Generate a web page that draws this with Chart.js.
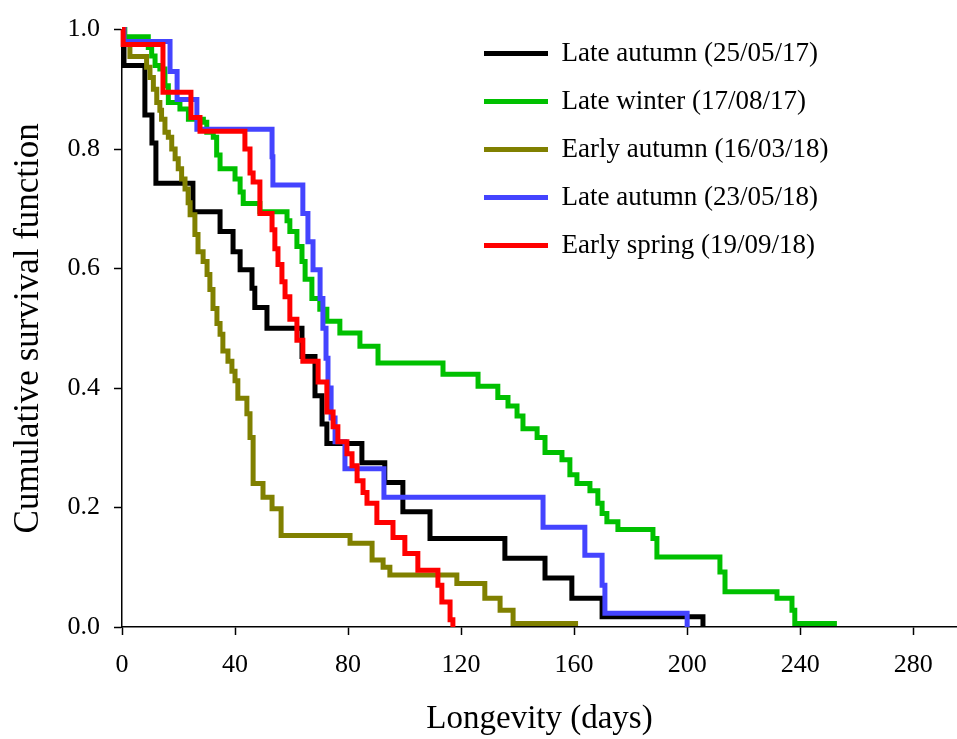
<!DOCTYPE html>
<html>
<head>
<meta charset="utf-8">
<script src="https://cdn.jsdelivr.net/npm/chart.js@4.4.1/dist/chart.umd.min.js"></script>
<style>
html,body{margin:0;padding:0;background:#fff;}
canvas{display:block;}
</style>
</head>
<body>
<canvas id="c" width="957" height="739"></canvas>
<script>
// ---- Data ----
const seriesLabels = [
  'Late autumn (25/05/17)',
  'Late winter (17/08/17)',
  'Early autumn (16/03/18)',
  'Late autumn (23/05/18)',
  'Early spring (19/09/18)'
];

const blackDays = [0, 0.7, 8.1, 10.6, 12, 25.1, 34.7, 39.3, 41.8, 46, 47, 51.3, 63.7, 68.3, 70.8, 72.5, 84.9, 93, 99.4, 109, 135.5, 149.7, 159.2, 169.9, 205.6];
const blackSurv = [1.0, 0.94, 0.857, 0.81, 0.743, 0.695, 0.662, 0.628, 0.598, 0.567, 0.535, 0.50, 0.453, 0.387, 0.34, 0.307, 0.275, 0.242, 0.193, 0.148, 0.115, 0.082, 0.048, 0.017, 0];

const greenDays = [0, 1, 9.3, 10.5, 11.7, 13.4, 15.2, 16.4, 20.5, 23.5, 28.8, 30, 32.3, 33.5, 34.7, 40, 41.8, 42.9, 48.8, 58.4, 59.4, 61.9, 63.7, 64.8, 67.2, 70, 72.5, 77.1, 84.2, 90.6, 113.6, 126, 133, 136.6, 139.8, 141.9, 146.9, 149.7, 155.7, 158.5, 161, 165.6, 168.4, 169.9, 171.6, 175.5, 187.9, 189.3, 211.6, 213.4, 231.8, 237.1, 238.1, 253];
const greenSurv = [1.0, 0.988, 0.97, 0.956, 0.94, 0.934, 0.906, 0.878, 0.867, 0.85, 0.845, 0.828, 0.82, 0.79, 0.767, 0.75, 0.728, 0.709, 0.695, 0.68, 0.662, 0.637, 0.612, 0.582, 0.55, 0.532, 0.512, 0.492, 0.47, 0.442, 0.423, 0.403, 0.384, 0.37, 0.353, 0.332, 0.317, 0.292, 0.28, 0.255, 0.24, 0.228, 0.207, 0.19, 0.176, 0.163, 0.148, 0.117, 0.092, 0.059, 0.048, 0.028, 0.006, 0.006];

const oliveDays = [0, 0.7, 2.8, 8.7, 9.9, 11.1, 12.3, 13.4, 14, 15.2, 16.4, 17.6, 18.8, 19.9, 21.1, 22.3, 23.4, 24.1, 25.8, 26.9, 28.7, 30.1, 31.1, 32.2, 33.6, 34.7, 35.7, 37.5, 38.9, 40, 41, 44.2, 45.3, 46.4, 49.9, 53.1, 56.3, 80.7, 88.5, 92.4, 94.8, 118.5, 128.4, 133.8, 138.4, 161.4];
const oliveSurv = [1.0, 0.975, 0.955, 0.937, 0.92, 0.9, 0.878, 0.865, 0.85, 0.828, 0.82, 0.8, 0.784, 0.767, 0.75, 0.733, 0.71, 0.69, 0.657, 0.628, 0.612, 0.59, 0.565, 0.533, 0.508, 0.49, 0.462, 0.445, 0.428, 0.412, 0.383, 0.357, 0.317, 0.24, 0.217, 0.198, 0.153, 0.14, 0.112, 0.1, 0.087, 0.073, 0.048, 0.028, 0.006, 0.006];

const blueDays = [0, 0.7, 17, 19.5, 26.5, 53.1, 53.4, 64, 65.8, 67.6, 70.1, 71.1, 72.2, 72.9, 74, 75.4, 78.9, 92.7, 149, 163.8, 169.9, 170.9, 200];
const blueSurv = [1.0, 0.98, 0.93, 0.883, 0.833, 0.787, 0.74, 0.692, 0.645, 0.598, 0.55, 0.5, 0.45, 0.4, 0.35, 0.31, 0.265, 0.217, 0.167, 0.12, 0.07, 0.023, 0];

const redDays = [0, 0.4, 14.5, 24.4, 27.6, 43.5, 45.3, 46.4, 48.8, 53.1, 54.1, 55.2, 56.6, 57.7, 59.4, 61.9, 64, 69.4, 72.5, 74.7, 76.4, 79.6, 81.4, 83.2, 85.3, 86.7, 90.2, 95.9, 100.1, 104.7, 111.8, 113.2, 116.1, 117.1];
const redSurv = [1.0, 0.975, 0.895, 0.853, 0.83, 0.80, 0.76, 0.745, 0.692, 0.665, 0.633, 0.607, 0.578, 0.553, 0.515, 0.48, 0.445, 0.41, 0.36, 0.335, 0.31, 0.29, 0.27, 0.245, 0.225, 0.207, 0.175, 0.15, 0.123, 0.095, 0.07, 0.042, 0.012, 0];

const xTickStep = 40;
const yTickStep = 0.2;

// ---- Build chart ----
const toPoints = (days, surv) => days.map((d, i) => ({x: d, y: surv[i]}));

Chart.defaults.font.family = "'Liberation Serif', 'Times New Roman', serif";
Chart.defaults.color = '#000';

function makeSet(label, days, surv, color, order) {
  return {
    label: label,
    data: toPoints(days, surv),
    borderColor: color,
    backgroundColor: color,
    borderWidth: 5,
    stepped: 'before',
    pointRadius: 0,
    pointHoverRadius: 0,
    fill: false,
    order: order,
    clip: 8
  };
}

const legendPlacer = {
  id: 'legendPlacer',
  afterLayout(chart) {
    const lg = chart.legend;
    if (lg) {
      lg.left = 463;
      lg.top = 19;
      lg.right = lg.left + lg.width;
      lg.bottom = lg.top + lg.height;
    }
  }
};

new Chart(document.getElementById('c'), {
  type: 'line',
  data: {
    datasets: [
      makeSet(seriesLabels[0], blackDays, blackSurv, '#000000', 4),
      makeSet(seriesLabels[1], greenDays, greenSurv, '#00C000', 3),
      makeSet(seriesLabels[2], oliveDays, oliveSurv, '#808000', 2),
      makeSet(seriesLabels[3], blueDays, blueSurv, '#4444FF', 1),
      makeSet(seriesLabels[4], redDays, redSurv, '#FF0000', 0)
    ]
  },
  options: {
    responsive: false,
    animation: false,
    devicePixelRatio: 1,
    layout: { padding: { top: 27, right: 0, bottom: 0, left: 0 } },
    plugins: {
      tooltip: { enabled: false },
      legend: {
        display: true,
        position: 'chartArea',
        align: 'start',
        labels: {
          boxWidth: 64,
          boxHeight: 5,
          padding: 21,
          color: '#000',
          font: { size: 27 },
          sort: (a, b) => a.datasetIndex - b.datasetIndex,
          generateLabels(chart) {
            const items = Chart.defaults.plugins.legend.labels.generateLabels(chart);
            items.forEach(it => { it.lineWidth = 0; it.fillStyle = it.strokeStyle; });
            return items;
          }
        }
      }
    },
    scales: {
      x: {
        type: 'linear',
        position: 'bottom',
        min: 0,
        max: 295.5,
        border: { display: true, color: '#000', width: 1.5 },
        grid: { display: true, drawOnChartArea: false, drawTicks: true, tickLength: 8, tickColor: '#000', tickWidth: 1.5 },
        ticks: { stepSize: xTickStep, includeBounds: false, maxRotation: 0, autoSkip: false, padding: 15, color: '#000', font: { size: 26 } },
        title: { display: true, text: 'Longevity (days)', color: '#000', font: { size: 33 }, padding: { top: 0, bottom: 0 } },
        afterFit(scale) { scale.height = 112; }
      },
      y: {
        type: 'linear',
        position: 'left',
        min: 0,
        max: 1,
        border: { display: true, color: '#000', width: 1.5 },
        grid: { display: true, drawOnChartArea: false, drawTicks: true, tickLength: 8, tickColor: '#000', tickWidth: 1.5 },
        ticks: { stepSize: yTickStep, padding: 14, color: '#000', font: { size: 26 }, callback: (v) => Number(v).toFixed(1) },
        title: { display: true, text: 'Cumulative survival function', color: '#000', font: { size: 35 }, padding: { top: 8, bottom: 0 } },
        afterFit(scale) { scale.width = 122; }
      }
    }
  },
  plugins: [legendPlacer]
});
</script>
</body>
</html>
